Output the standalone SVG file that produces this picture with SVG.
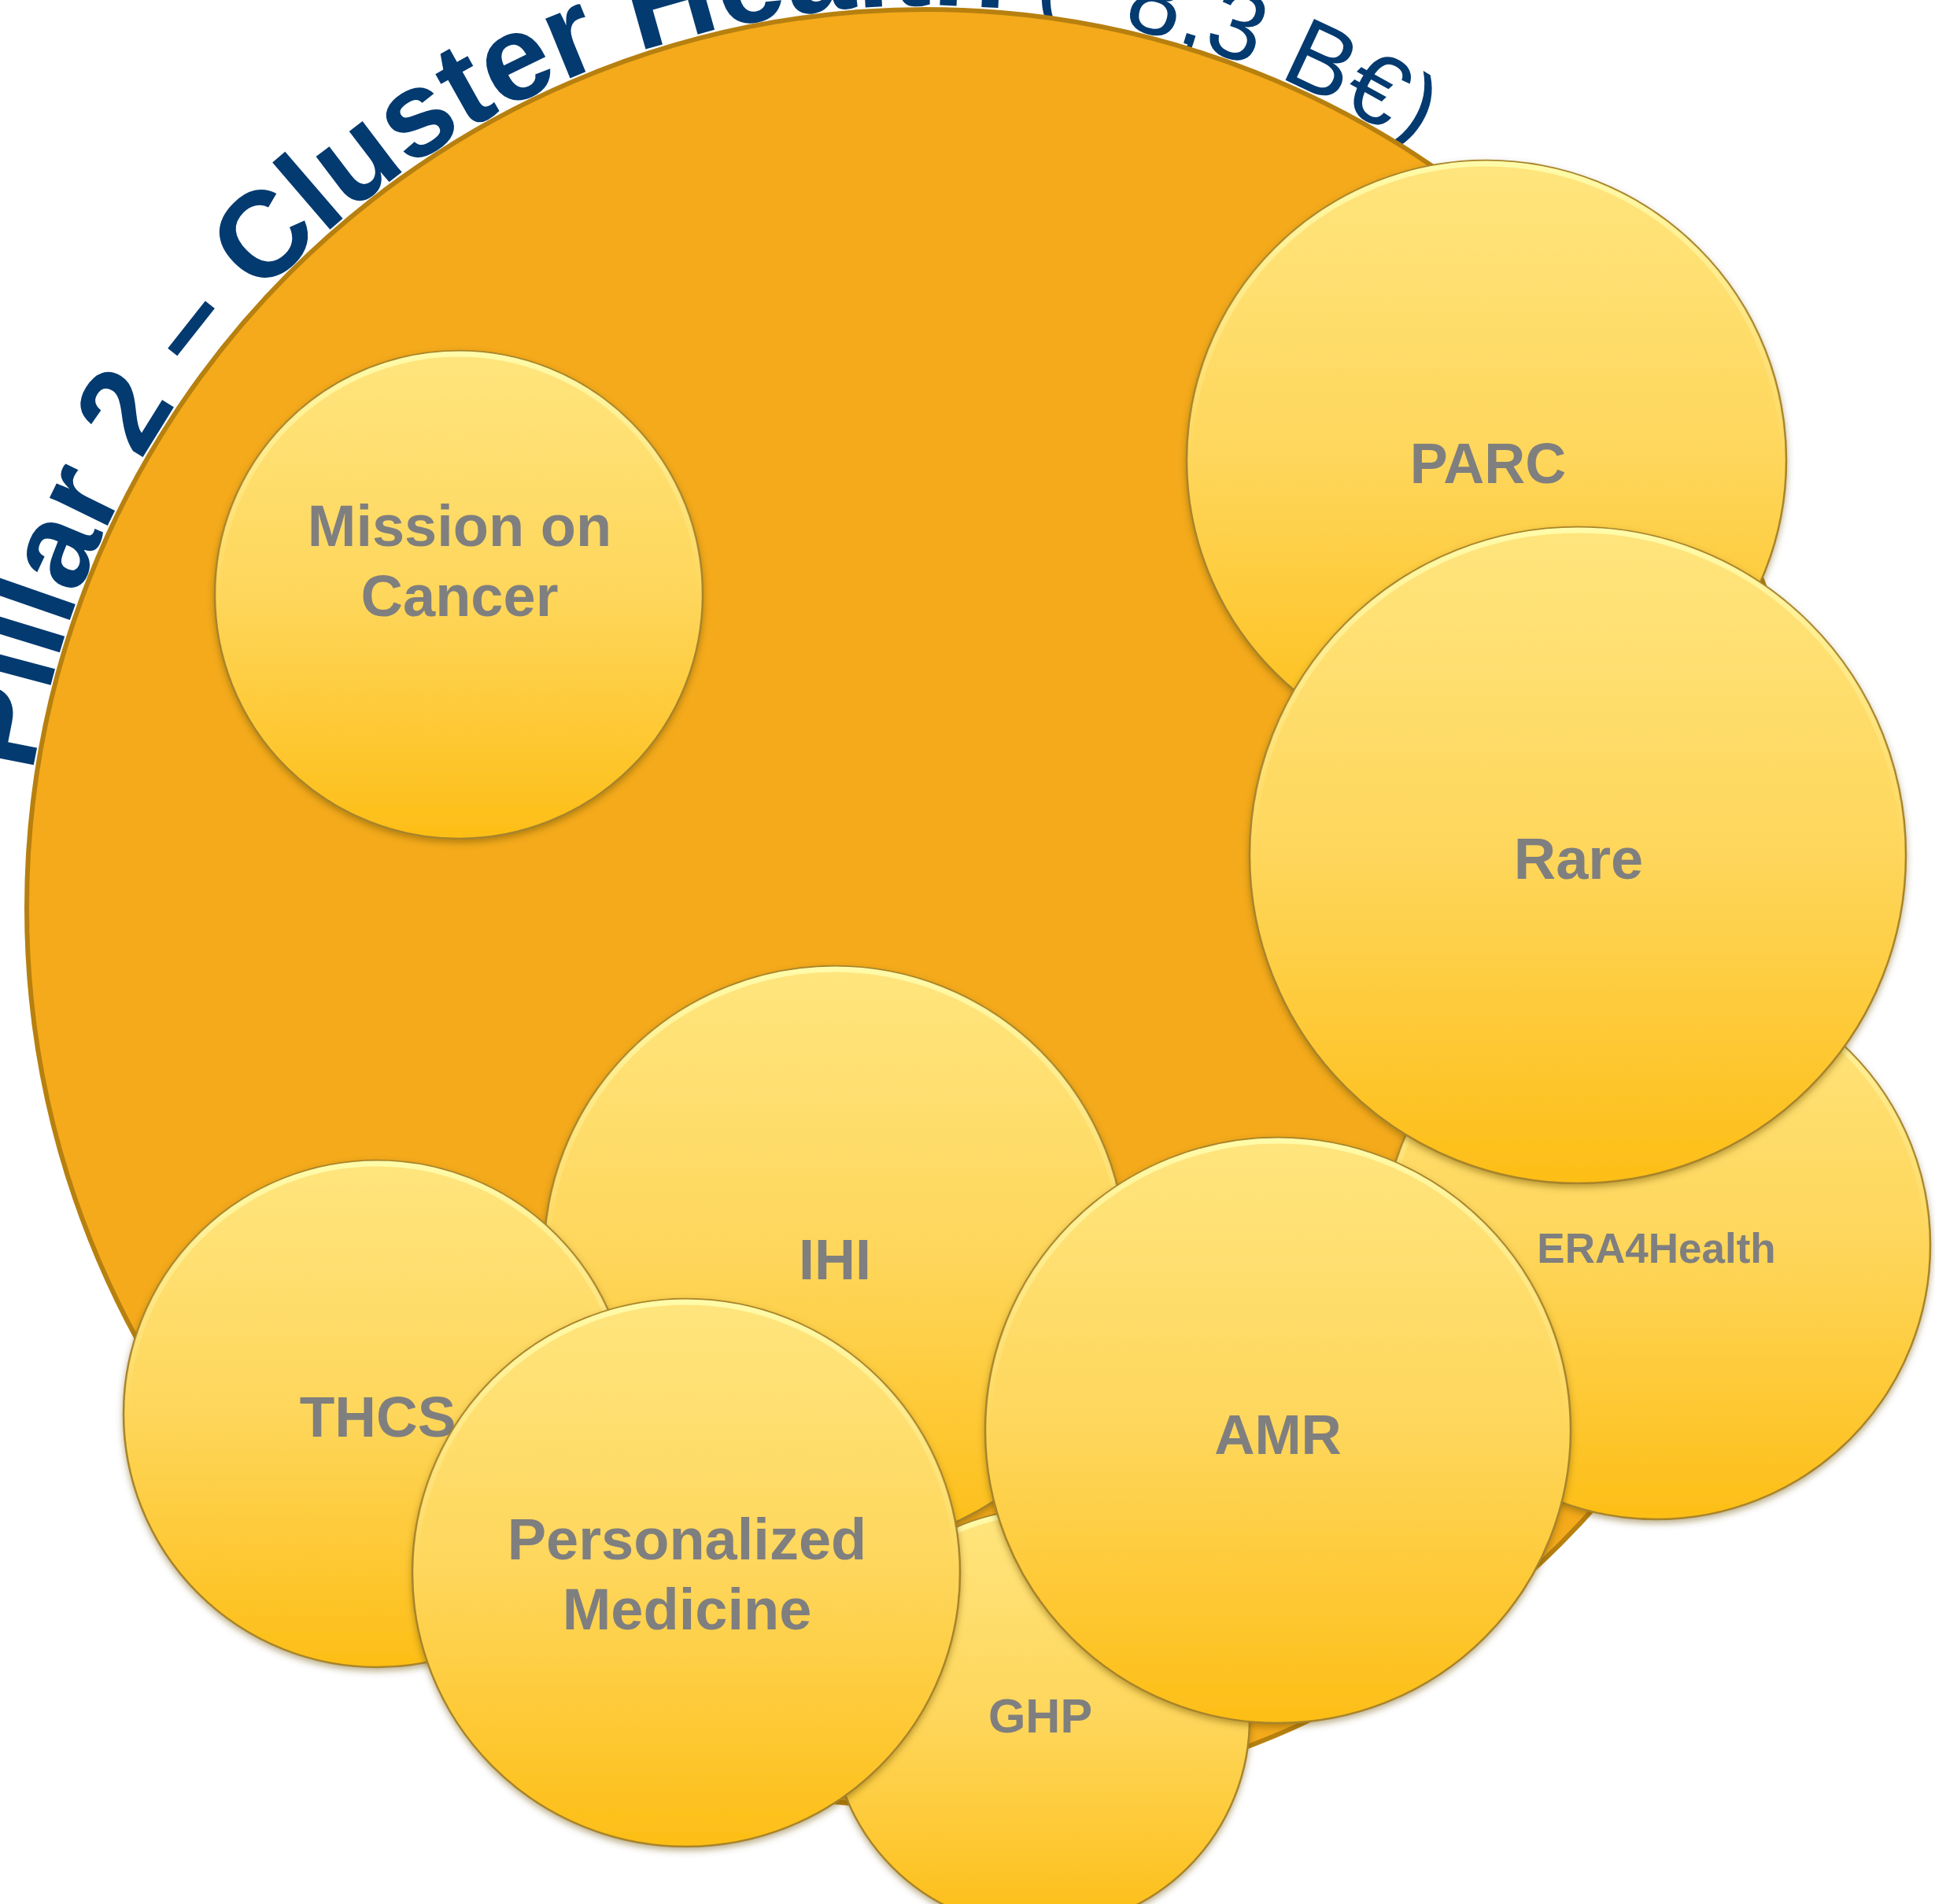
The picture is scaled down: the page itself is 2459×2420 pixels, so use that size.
<svg xmlns="http://www.w3.org/2000/svg" width="2459" height="2420" viewBox="0 0 2459 2420">
<style>
.lbl{font-family:"Liberation Sans",Arial,sans-serif;font-weight:bold;fill:#7F7F7F;text-anchor:middle}
.bub{fill:url(#bubGrad);stroke:#A8842A;stroke-width:2.5;filter:url(#shadow)}
.rim{fill:none;stroke:url(#rimGrad);stroke-width:7}
.title{font-family:"Liberation Sans",Arial,sans-serif;fill:#033A70}
</style>
<defs>
<linearGradient id="bubGrad" x1="0" y1="0" x2="0" y2="1">
<stop offset="0" stop-color="#FFE57E"/>
<stop offset="0.5" stop-color="#FED65B"/>
<stop offset="1" stop-color="#FDBE16"/>
</linearGradient>
<linearGradient id="rimGrad" x1="0" y1="0" x2="0" y2="1">
<stop offset="0" stop-color="#FFFBA8" stop-opacity="1"/>
<stop offset="0.3" stop-color="#FFF3A0" stop-opacity="0.35"/>
<stop offset="0.5" stop-color="#FFF3A0" stop-opacity="0"/>
</linearGradient>
<filter id="shadow" x="-10%" y="-10%" width="120%" height="125%">
<feDropShadow dx="0" dy="4" stdDeviation="4" flood-color="#6B4E00" flood-opacity="0.45"/>
</filter>
<path id="arc" d="M 29 1154 A 1147 1147 0 1 1 2323 1154 A 1147 1147 0 1 1 29 1154"/>
</defs>
<rect width="2459" height="2420" fill="#FFFFFF"/>
<g id="title">
<text class="title"><textPath href="#arc" startOffset="172"><tspan font-weight="bold" font-size="155">Pillar 2 – Cluster Health</tspan><tspan font-size="125"> (~8,3 B€)</tspan></textPath></text>
</g>
<g id="cluster-health">
<circle cx="1176" cy="1154" r="1142" fill="#F4AA1B" stroke="#B7800F" stroke-width="6"/>
</g>
<g id="mission-cancer">
<circle class="bub" cx="583" cy="756" r="310"/>
<circle class="rim" cx="583" cy="756" r="306"/>
<text class="lbl" font-size="74" x="584" y="694">Mission on</text>
<text class="lbl" font-size="74" x="584" y="783">Cancer</text>
</g>
<g id="parc">
<circle class="bub" cx="1889" cy="585" r="381"/>
<circle class="rim" cx="1889" cy="585" r="377"/>
<text class="lbl" font-size="72" x="1891" y="614">PARC</text>
</g>
<g id="era4health">
<circle class="bub" cx="2105" cy="1583" r="348"/>
<circle class="rim" cx="2105" cy="1583" r="344"/>
<text class="lbl" font-size="53" x="2105" y="1605">ERA4Health</text>
</g>
<g id="rare">
<circle class="bub" cx="2005" cy="1087" r="417"/>
<circle class="rim" cx="2005" cy="1087" r="413"/>
<text class="lbl" font-size="74" x="2006" y="1117">Rare</text>
</g>
<g id="ihi">
<circle class="bub" cx="1061" cy="1598" r="370"/>
<circle class="rim" cx="1061" cy="1598" r="366"/>
<text class="lbl" font-size="72" x="1061" y="1626">IHI</text>
</g>
<g id="thcs">
<circle class="bub" cx="479" cy="1797" r="322"/>
<circle class="rim" cx="479" cy="1797" r="318"/>
<text class="lbl" font-size="73" x="480" y="1826">THCS</text>
</g>
<g id="ghp">
<circle class="bub" cx="1322" cy="2185" r="266"/>
<circle class="rim" cx="1322" cy="2185" r="262"/>
<text class="lbl" font-size="61" x="1322" y="2202">GHP</text>
</g>
<g id="personalized-medicine">
<circle class="bub" cx="872" cy="1999" r="348"/>
<circle class="rim" cx="872" cy="1999" r="344"/>
<text class="lbl" font-size="74" x="873" y="1982">Personalized</text>
<text class="lbl" font-size="74" x="873" y="2071">Medicine</text>
</g>
<g id="amr">
<circle class="bub" cx="1624" cy="1818" r="372"/>
<circle class="rim" cx="1624" cy="1818" r="368"/>
<text class="lbl" font-size="71" x="1624" y="1848">AMR</text>
</g>
<g id="connectors"/>
</svg>
